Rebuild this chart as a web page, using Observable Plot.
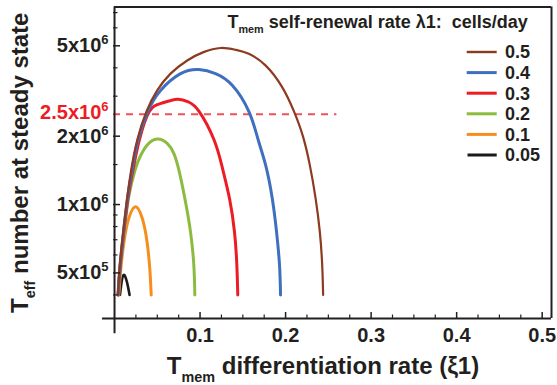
<!DOCTYPE html>
<html><head><meta charset="utf-8">
<script src="https://cdn.jsdelivr.net/npm/d3@7"></script>
<script src="https://cdn.jsdelivr.net/npm/@observablehq/plot@0.6"></script>
<style>
html,body{margin:0;padding:0;background:#fff;}
#chart{width:557px;height:385px;}
</style></head><body><div id="chart"></div>
<script>
// ---- data ----
const rates = ["0.5", "0.4", "0.3", "0.2", "0.1", "0.05"];
const colors = ["#8c3b1f", "#3f6fbf", "#ed1c24", "#8dbb3f", "#f68e1f", "#1b1b1b"];

const xi05 = [0.0039, 0.0062, 0.0102, 0.0148, 0.0195, 0.0265, 0.0374, 0.0499, 0.0655, 0.0850, 0.1040, 0.1239, 0.1415, 0.1570, 0.1765, 0.1960, 0.2098, 0.2204, 0.2285, 0.2350, 0.2400, 0.2428, 0.2439];
const n05  = [4.0e5, 5.42e5, 7.6e5, 1.07e6, 1.42e6, 1.92e6, 2.57e6, 3.18e6, 3.77e6, 4.31e6, 4.69e6, 4.89e6, 4.80e6, 4.61e6, 4.10e6, 3.29e6, 2.57e6, 1.99e6, 1.48e6, 1.07e6, 7.6e5, 5.42e5, 4.0e5];

const xi04 = [0.0041, 0.0065, 0.0105, 0.0152, 0.0205, 0.0275, 0.0389, 0.0538, 0.0772, 0.0986, 0.1181, 0.1376, 0.1570, 0.1681, 0.1769, 0.1844, 0.1894, 0.1929, 0.1941];
const n04  = [4.0e5, 5.42e5, 7.6e5, 1.07e6, 1.42e6, 1.92e6, 2.57e6, 3.18e6, 3.77e6, 3.93e6, 3.77e6, 3.35e6, 2.57e6, 1.92e6, 1.48e6, 1.065e6, 7.6e5, 5.42e5, 4.0e5];

const xi03 = [0.0042, 0.0068, 0.0109, 0.0158, 0.0216, 0.0290, 0.0405, 0.0545, 0.0733, 0.0865, 0.0986, 0.1163, 0.1263, 0.1345, 0.1403, 0.1430, 0.1441];
const n03  = [4.0e5, 5.42e5, 7.6e5, 1.07e6, 1.42e6, 1.92e6, 2.56e6, 2.79e6, 2.91e6, 2.83e6, 2.58e6, 1.93e6, 1.44e6, 1.06e6, 7.55e5, 5.42e5, 4.0e5];

const xi02 = [0.0044, 0.0070, 0.0113, 0.0164, 0.0240, 0.0304, 0.0382, 0.0499, 0.0616, 0.0693, 0.0752, 0.0822, 0.0888, 0.0927, 0.0939];
const n02  = [4.0e5, 5.42e5, 7.6e5, 1.07e6, 1.42e6, 1.64e6, 1.83e6, 1.945e6, 1.86e6, 1.68e6, 1.42e6, 1.065e6, 7.6e5, 5.42e5, 4.0e5];

const xi01 = [0.0050, 0.0078, 0.0117, 0.0167, 0.0246, 0.0324, 0.0374, 0.0409, 0.0429];
const n01  = [4.0e5, 5.42e5, 7.1e5, 8.7e5, 9.78e5, 8.7e5, 7.1e5, 5.42e5, 4.0e5];

const xi005 = [0.0064, 0.0078, 0.0105, 0.0144, 0.0176];
const n005  = [4.0e5, 4.43e5, 4.9e5, 4.58e5, 4.0e5];

const xMajor = [0.1, 0.2, 0.3, 0.4, 0.5];
const xTickLabels = ["0.1", "0.2", "0.3", "0.4", "0.5"];
const xMinor = [0.025, 0.05, 0.075, 0.125, 0.15, 0.175, 0.225, 0.25, 0.275, 0.325, 0.35, 0.375, 0.425, 0.45, 0.475];
const yMajor = [5e5, 1e6, 2e6, 5e6];
const yTickLabels = ["5x10^{5}", "1x10^{6}", "2x10^{6}", "5x10^{6}"];
const yMinor = [4e5, 6e5, 7e5, 8e5, 9e5, 1.5e6, 3e6, 4e6, 6e6, 7e6];
const threshold = [2.5e6];
const thresholdLabel = ["2.5x10^{6}"];
const thresholdEnd = 0.26;

const xTitle = "T_{mem} differentiation rate (\u03BE1)";
const yTitle = "T_{eff} number at steady state";
const legendTitle = "T_{mem} self-renewal rate \u03BB1:\u00A0 cells/day";

// ---- layout ----
const FONT = "'Liberation Sans', Arial, Helvetica, sans-serif";
const INK = "#231f20";
const W = 557, H = 385;
const mT = 6.5, mR = 6, mB = 67, mL = 113;
const innerW = W - mL - mR, innerH = H - mT - mB;
const xDomain = [-0.0012, 0.5109];
const yDomain = [3.15e5, 7.41e6];

const seriesX = [xi05, xi04, xi03, xi02, xi01, xi005];
const seriesN = [n05, n04, n03, n02, n01, n005];
const widths = [2.2, 3, 3, 3, 3, 2.6];

const curveMarks = [];
for (let i = rates.length - 1; i >= 0; i--) {
  const pts = seriesX[i].map((x, j) => ({xi: x, n: seriesN[i][j]}));
  curveMarks.push(Plot.line(pts, {x: "xi", y: "n", stroke: colors[i], strokeWidth: widths[i], curve: "natural"}));
}

const txt = {fontFamily: FONT, fontWeight: "bold", fill: INK};

const plot = Plot.plot({
  width: W, height: H,
  marginTop: mT, marginRight: mR, marginBottom: mB, marginLeft: mL,
  style: {fontFamily: FONT, background: "white", overflow: "visible"},
  x: {domain: xDomain, axis: null},
  y: {type: "log", domain: yDomain, axis: null},
  marks: [
    Plot.ruleY(threshold, {y: d => d, x1: xDomain[0], x2: thresholdEnd, stroke: "#f05058", strokeWidth: 2, strokeDasharray: "7,6"}),
    ...curveMarks,
    Plot.ruleY([yDomain[1]], {y: d => d, x1: 0, x2: xDomain[1], stroke: INK, strokeWidth: 2}),
    Plot.ruleX([xDomain[1]], {x: d => d, y1: yDomain[0], y2: yDomain[1], stroke: INK, strokeWidth: 2}),
    Plot.ruleY([yDomain[0]], {y: d => d, x1: -0.014, x2: xDomain[1], stroke: INK, strokeWidth: 2}),
    Plot.ruleX([0], {x: d => d, y1: 2.7e5, y2: yDomain[1], stroke: INK, strokeWidth: 2}),
    Plot.tickX(xMajor, {x: d => d, insetTop: innerH - 6, stroke: INK, strokeWidth: 1.5}),
    Plot.tickX(xMinor, {x: d => d, insetTop: innerH - 3.5, stroke: INK, strokeWidth: 1.2}),
    Plot.tickY(yMajor, {y: d => d, insetRight: innerW - 7, stroke: INK, strokeWidth: 1.5}),
    Plot.tickY(yMinor, {y: d => d, insetRight: innerW - 4.5, stroke: INK, strokeWidth: 1.2}),
    Plot.text(xMajor, {x: d => d, text: (d, i) => xTickLabels[i], frameAnchor: "bottom", textAnchor: "middle", lineAnchor: "top", dy: 9.5, fontSize: 20, ...txt}),
    Plot.text(yMajor, {y: d => d, text: (d, i) => yTickLabels[i], frameAnchor: "left", textAnchor: "end", lineAnchor: "middle", dx: -5, fontSize: 20, ...txt}),
    Plot.text(threshold, {y: d => d, text: (d, i) => thresholdLabel[i], frameAnchor: "left", textAnchor: "end", lineAnchor: "middle", dx: -5, dy: -2, fontSize: 20, fontFamily: FONT, fontWeight: "bold", fill: "#ed1c24"}),
    Plot.text([yTitle], {text: d => d, frameAnchor: "left", textAnchor: "middle", lineAnchor: "middle", rotate: -90, dx: -93.5, fontSize: 24, ...txt}),
    Plot.text([xTitle], {text: d => d, frameAnchor: "bottom", textAnchor: "middle", lineAnchor: "middle", dx: -9.5, dy: 48.3, fontSize: 24, ...txt}),
    Plot.text([legendTitle], {text: d => d, frameAnchor: "top-left", textAnchor: "start", lineAnchor: "middle", dx: 114, dy: 15, fontSize: 18, ...txt})
  ]
});

function rich(el) {
  const s = el.textContent;
  if (!/[\^_]\{/.test(s)) return;
  const parts = [];
  const re = /([\^_])\{([^}]*)\}/g;
  let last = 0, m;
  while ((m = re.exec(s))) {
    if (m.index > last) parts.push({t: "n", s: s.slice(last, m.index)});
    parts.push({t: m[1] === "^" ? "sup" : "sub", s: m[2]});
    last = re.lastIndex;
  }
  if (last < s.length) parts.push({t: "n", s: s.slice(last)});
  el.textContent = "";
  const NS = "http://www.w3.org/2000/svg";
  let shift = 0;
  for (const p of parts) {
    const ts = document.createElementNS(NS, "tspan");
    ts.textContent = p.s;
    if (p.t === "sup") {
      ts.setAttribute("font-size", "65%");
      ts.setAttribute("dy", ((-0.4 - shift) / 0.65).toFixed(3) + "em");
      shift = -0.4;
    } else if (p.t === "sub") {
      ts.setAttribute("font-size", "60%");
      ts.setAttribute("dy", ((0.3 - shift) / 0.6).toFixed(3) + "em");
      shift = 0.3;
    } else {
      if (shift !== 0) ts.setAttribute("dy", (-shift).toFixed(3) + "em");
      shift = 0;
    }
    el.appendChild(ts);
  }
}
plot.querySelectorAll("text").forEach(rich);

const lg = d3.select(plot).append("g")
  .attr("font-family", FONT).attr("font-weight", "bold").attr("font-size", 18)
  .attr("fill", INK).attr("text-anchor", "start");
rates.forEach((r, i) => {
  const y = 52 + i * 20.6;
  lg.append("line").attr("x1", i === 5 ? 467.5 : 466.7).attr("x2", 496.7).attr("y1", y).attr("y2", y)
    .attr("stroke", colors[i]).attr("stroke-width", i === 0 ? 2.4 : 3);
  lg.append("text").attr("x", 505).attr("y", y).attr("dy", "0.36em").text(r);
});

document.getElementById("chart").appendChild(plot);
</script></body></html>
